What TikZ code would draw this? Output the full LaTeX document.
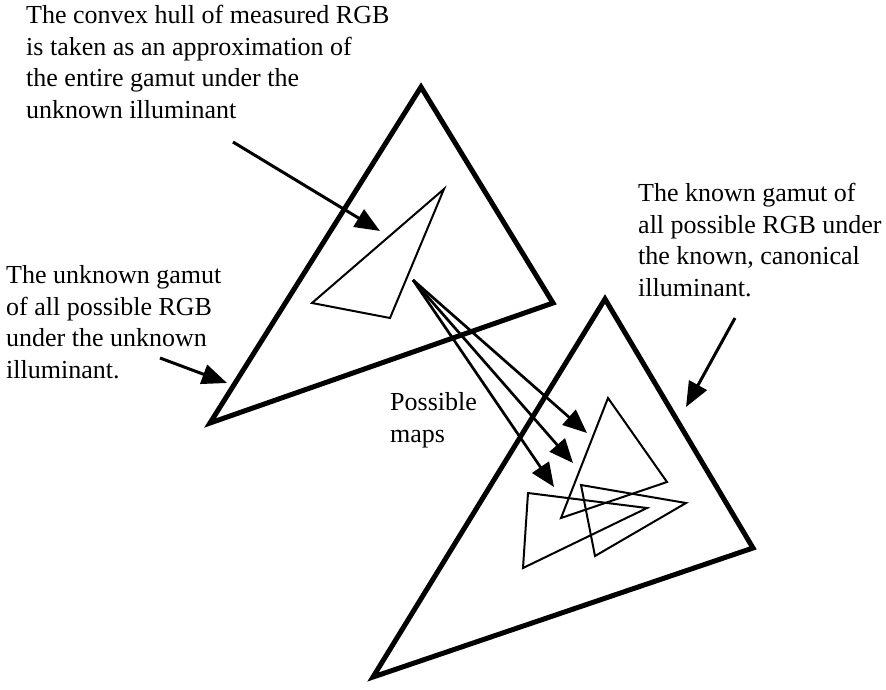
\documentclass[tikz,border=0pt]{standalone}
\usepackage{fontspec}
\setmainfont{Liberation Serif}
\usetikzlibrary{arrows.meta}
\tikzset{
  gamut/.style={line width=5pt,line join=miter},
  hull/.style={line width=2pt,line join=miter},
  pointer/.style={line width=3pt,-{Triangle[length=25pt,width=20pt]}},
  mapto/.style={line width=2.7pt,-{Triangle[length=24pt,width=20pt]}},
  note/.style={align=left,anchor=base west,inner sep=0pt,font=\fontsize{26}{31.5}\selectfont}
}

\begin{document}
\begin{tikzpicture}[x=1pt,y=-1pt]
  \useasboundingbox (0,0) rectangle (886,689);
  % unknown illuminant
  \coordinate (U1) at (421,87); \coordinate (U2) at (553,303); \coordinate (U3) at (210,423);
  \coordinate (H1) at (444,189); \coordinate (H2) at (312,303); \coordinate (H3) at (390,318);
  \draw[gamut] (U1)--(U2)--(U3)--cycle;
  \draw[hull] (H1)--(H2)--(H3)--cycle;
  % canonical illuminant
  \coordinate (K1) at (605,299); \coordinate (K2) at (753,548); \coordinate (K3) at (373,677);
  \draw[gamut] (K1)--(K2)--(K3)--cycle;
  \draw[hull] (608,398)--(667,482)--(561,518)--cycle;
  \draw[hull] (528,493)--(647,508)--(523,568)--cycle;
  \draw[hull] (581,485)--(686,503)--(595,556)--cycle;
  % texts (anchored at the baseline of the last line)
  \node[note] (hullnote) at (26,118) {The convex hull of measured RGB\\is taken as an approximation of\\the entire gamut under the\\unknown illuminant};
  \node[note] (unknownnote) at (6,378) {The unknown gamut\\of all possible RGB\\under the unknown\\illuminant.};
  \node[note] (knownnote) at (638,296) {The known gamut of\\all possible RGB under\\the known, canonical\\illuminant.};
  \node[note] (mapsnote) at (390,442) {Possible\\maps};
  % pointers
  \coordinate (hulltail) at (233,142); \coordinate (hulltip) at (380,231);
  \coordinate (unknowntail) at (160,358); \coordinate (unknowntip) at (227,383);
  \coordinate (knowntail) at (735,318); \coordinate (knowntip) at (686,407);
  \draw[pointer] (hulltail)--(hulltip);
  \draw[pointer] (unknowntail)--(unknowntip);
  \draw[pointer] (knowntail)--(knowntip);
  % possible maps
  \coordinate (mapfrom) at (413,280);
  \foreach \tip in {(587,433),(573,463),(554,487)}
    \draw[mapto] (mapfrom)--\tip;
\end{tikzpicture}
\end{document}
